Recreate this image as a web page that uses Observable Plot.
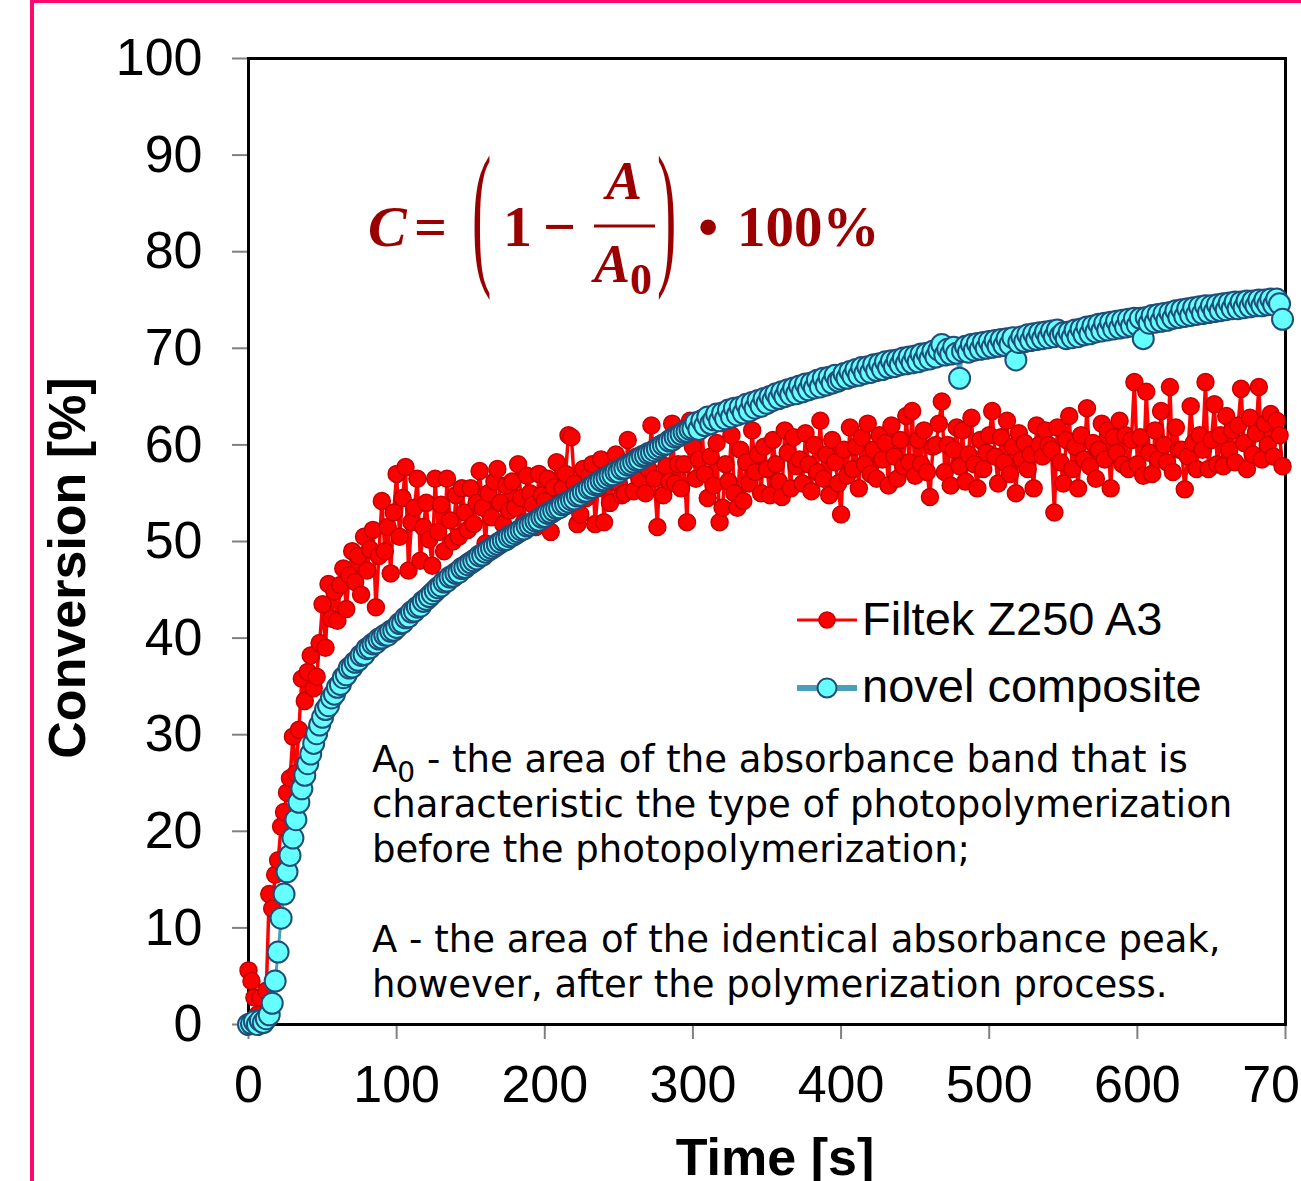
<!DOCTYPE html>
<html><head><meta charset="utf-8">
<script src="https://cdn.jsdelivr.net/npm/d3@7"></script>
<script src="https://cdn.jsdelivr.net/npm/@observablehq/plot@0.6"></script>
<style>html,body{margin:0;padding:0;background:#fff;overflow:hidden}</style>
</head><body><div id="chart"></div>
<script>
// sampling times [s]
const times = [
0,2,4,6,8,10,12,14,16,18,20,22,24,26,28,30,32,34,36,38,40,42,44,46,48,
50,52,54,56,58,60,62,64,66,68,70,72,74,76,78,80,82,84,86,88,90,92,94,96,98,
100,102,104,106,108,110,112,114,116,118,120,122,124,126,128,130,132,134,136,138,140,142,144,146,148,
150,152,154,156,158,160,162,164,166,168,170,172,174,176,178,180,182,184,186,188,190,192,194,196,198,
200,202,204,206,208,210,212,214,216,218,220,222,224,226,228,230,232,234,236,238,240,242,244,246,248,
250,252,254,256,258,260,262,264,266,268,270,272,274,276,278,280,282,284,286,288,290,292,294,296,298,
300,302,304,306,308,310,312,314,316,318,320,322,324,326,328,330,332,334,336,338,340,342,344,346,348,
350,352,354,356,358,360,362,364,366,368,370,372,374,376,378,380,382,384,386,388,390,392,394,396,398,
400,402,404,406,408,410,412,414,416,418,420,422,424,426,428,430,432,434,436,438,440,442,444,446,448,
450,452,454,456,458,460,462,464,466,468,470,472,474,476,478,480,482,484,486,488,490,492,494,496,498,
500,502,504,506,508,510,512,514,516,518,520,522,524,526,528,530,532,534,536,538,540,542,544,546,548,
550,552,554,556,558,560,562,564,566,568,570,572,574,576,578,580,582,584,586,588,590,592,594,596,598,
600,602,604,606,608,610,612,614,616,618,620,622,624,626,628,630,632,634,636,638,640,642,644,646,648,
650,652,654,656,658,660,662,664,666,668,670,672,674,676,678,680,682,684,686,688,690,692,694,696,698];

// Filtek Z250 A3 conversion [%]
const filtek = [
5.6,4.5,2.8,1.0,2.8,0.5,3.5,13.5,12.0,15.5,17.0,20.5,22.0,24.0,25.5,29.8,26.0,30.5,35.8,33.5,36.5,38.2,34.8,36.0,39.5,
43.5,39.0,45.6,42.0,44.8,41.8,45.5,47.2,43.0,46.5,49.0,45.8,48.5,44.5,50.5,47.0,49.2,51.2,43.2,48.5,54.2,49.0,51.5,46.7,53.0,
57.0,50.5,54.5,57.7,47.0,52.0,53.5,56.5,48.0,51.5,54.0,50.2,47.5,56.5,51.0,53.8,49.0,56.5,52.2,50.0,54.8,50.5,55.5,53.0,51.2,
55.5,51.8,54.0,57.3,53.5,49.8,55.0,52.5,56.2,57.5,54.0,51.8,55.8,53.2,56.2,53.5,58.0,54.5,52.0,56.8,55.0,53.8,51.5,57.0,54.8,
54.2,56.5,51.0,55.6,58.2,54.0,55.5,57.0,61.0,60.8,56.0,51.8,52.8,57.5,54.5,56.8,58.0,51.8,55.5,58.5,52.0,57.0,54.0,56.2,59.0,
56.0,54.8,55.0,60.5,57.5,55.2,58.8,56.5,58.0,55.0,57.5,62.0,56.5,51.5,59.5,54.8,57.8,56.2,62.2,56.0,58.0,55.5,58.0,52.0,62.5,
59.8,56.5,58.5,62.0,57.0,54.5,58.8,55.8,60.2,52.0,53.5,58.0,56.2,61.0,55.0,53.5,59.5,54.2,58.2,56.0,61.5,57.2,59.0,55.0,59.8,
57.5,54.8,60.5,58.0,56.2,54.6,61.5,59.2,55.5,60.8,57.8,58.5,56.0,61.2,58.0,55.2,60.0,57.2,62.5,56.5,59.0,54.8,60.5,58.2,56.0,
52.8,59.5,56.8,61.8,57.5,59.8,55.5,60.8,58.0,62.2,57.0,59.5,56.5,61.0,58.5,60.2,55.8,62.0,58.8,56.5,60.5,57.8,63.0,58.2,63.5,
56.8,60.5,58.0,61.5,57.2,54.6,59.8,60.0,62.2,64.5,57.2,60.0,55.8,59.5,61.8,57.8,61.5,56.2,59.0,62.8,58.0,55.5,60.5,57.5,59.2,
61.0,63.5,58.8,56.0,60.8,58.2,62.5,57.0,59.8,55.0,61.2,58.5,60.2,57.5,59.0,55.5,62.0,60.0,58.8,61.5,60.0,59.5,53.0,61.8,58.2,
56.0,60.5,63.0,57.5,59.8,55.5,61.0,58.5,63.8,57.8,60.2,56.5,59.5,62.2,58.5,61.5,55.5,60.8,59.2,62.5,58.0,61.0,57.5,60.5,66.5,
58.0,60.8,56.8,65.5,59.2,57.0,61.5,58.5,63.5,60.0,58.2,66.0,57.2,61.8,59.5,59.5,55.4,58.8,64.0,60.2,57.5,61.0,59.5,66.5,57.5,
60.5,64.2,58.0,61.0,57.8,63.0,59.5,61.5,58.2,62.0,65.8,60.2,57.5,62.8,59.0,61.2,66.0,58.5,62.2,60.0,63.2,58.8,62.5,61.0,57.8];

// novel composite conversion [%]
const novel = [
0.0,0.1,0.3,0.0,0.4,0.2,0.6,1.0,2.2,4.5,7.5,11.0,13.5,15.8,17.5,19.3,21.2,23.0,24.4,25.8,27.0,28.0,29.1,30.1,31.0,
31.8,32.6,33.0,33.8,34.2,34.9,35.2,35.9,36.2,36.9,37.0,37.5,37.7,38.2,38.3,38.9,39.0,39.4,39.5,39.9,40.0,40.3,40.3,40.7,40.8,
41.1,41.5,41.6,42.1,42.2,42.7,42.8,43.2,43.3,43.8,44.0,44.3,44.6,44.9,45.2,45.4,45.8,45.9,46.3,46.4,46.7,46.8,47.2,47.3,47.6,
47.8,48.0,48.2,48.5,48.6,48.9,49.1,49.3,49.5,49.7,49.9,50.1,50.2,50.5,50.6,50.8,51.0,51.2,51.3,51.6,51.7,51.9,52.1,52.2,52.5,
52.6,52.9,53.0,53.2,53.4,53.5,53.8,53.9,54.1,54.3,54.4,54.7,54.8,55.1,55.2,55.5,55.6,55.9,56.0,56.3,56.4,56.6,56.8,56.9,57.2,
57.2,57.5,57.6,57.9,58.0,58.2,58.4,58.5,58.8,58.9,59.1,59.2,59.4,59.6,59.8,60.0,60.1,60.4,60.5,60.8,60.9,61.1,61.3,61.4,61.6,
61.7,62.3,61.6,62.5,62.0,62.9,62.2,62.6,63.2,62.5,63.3,62.7,63.6,62.9,63.8,63.1,63.9,63.3,64.2,63.5,64.4,63.8,64.6,64.0,64.8,
64.3,65.0,64.6,65.3,64.8,65.5,65.0,65.7,65.2,65.9,65.3,66.1,65.5,66.3,65.7,66.4,65.9,66.7,66.0,66.9,66.2,67.0,66.4,67.2,66.6,
66.8,67.4,66.9,67.6,67.1,67.8,67.2,68.0,67.4,68.1,67.5,68.3,67.7,68.4,67.8,68.6,68.0,68.7,68.1,68.8,68.3,69.0,68.4,69.1,68.5,
69.2,68.6,69.4,68.8,69.5,68.9,69.7,69.1,69.8,70.4,69.3,69.9,69.4,70.1,69.5,66.9,69.7,70.2,69.6,70.4,69.8,70.5,69.9,70.6,70.0,
70.7,70.1,70.8,70.2,70.9,70.3,71.0,70.4,71.1,68.8,70.6,71.2,70.7,71.4,70.8,71.5,70.9,71.6,71.0,71.7,71.1,71.8,71.2,71.9,71.3,
71.6,71.0,71.7,71.1,71.9,71.2,72.0,71.4,72.2,71.5,72.3,71.7,72.5,71.8,72.6,71.9,72.7,72.0,72.8,72.1,72.9,72.2,73.0,72.3,73.1,
72.4,73.1,71.0,73.2,72.6,73.4,72.7,73.5,72.8,73.6,72.9,73.7,73.1,73.9,73.2,74.0,73.3,74.1,73.4,74.2,73.5,74.3,73.6,74.4,73.7,
74.4,73.8,74.5,73.9,74.6,74.0,74.7,74.1,74.8,74.1,74.8,74.2,74.9,74.3,74.9,74.4,75.0,74.4,75.0,74.5,75.1,74.5,75.1,74.6,73.0];

const seriesNames = ["Filtek Z250 A3", "novel composite"];
const xTicks = [0,100,200,300,400,500,600,700];
const yTicks = [0,10,20,30,40,50,60,70,80,90,100];
const xTitle = "Time [s]";
const yTitle = "Conversion [%]";
const noteLines = [
  ["A", "0", " - the area of the absorbance band that is"],
  ["characteristic the type of photopolymerization"],
  ["before the photopolymerization;"],
  [""],
  ["A - the area of the identical absorbance peak,"],
  ["however, after the polymerization process."]
];

const redData = times.map((t, i) => ({t, v: filtek[i]})).filter(d => d.v != null);
const cyanData = times.map((t, i) => ({t, v: novel[i]})).filter(d => d.v != null);

const sans = "'Liberation Sans', Arial, sans-serif";
const plot = Plot.plot({
  width: 1301, height: 1181,
  marginLeft: 248, marginRight: 16, marginTop: 58, marginBottom: 157,
  style: {fontFamily: sans, fontSize: "52px", background: "white", color: "black"},
  x: {domain: [0, 700]},
  y: {domain: [0, 100]},
  marks: [
    Plot.axisX({ticks: xTicks, tickSize: 15, tickPadding: 26, stroke: "#808080", strokeWidth: 2, fontSize: 52, label: null, tickFormat: d => String(d)}),
    Plot.axisY({ticks: yTicks, tickSize: 16, tickPadding: 30, stroke: "#808080", strokeWidth: 2, fontSize: 52, label: null, tickFormat: d => String(d)}),
    Plot.frame({stroke: "black", strokeWidth: 3}),
    Plot.line(redData, {x: "t", y: "v", stroke: "#ff0000", strokeWidth: 3.5}),
    Plot.dot(redData, {x: "t", y: "v", r: 8.5, fill: "#ff0000", stroke: "#c40000", strokeWidth: 1.5}),
    Plot.line(cyanData, {x: "t", y: "v", stroke: "#4aa0b8", strokeWidth: 3}),
    Plot.dot(cyanData, {x: "t", y: "v", r: 10.5, fill: "#66ffff", stroke: "#1f4e79", strokeWidth: 2})
  ]
});
document.getElementById("chart").appendChild(plot);

const svg = d3.select(plot);
// pink page border
svg.append("line").attr("x1", 32).attr("x2", 32).attr("y1", 0).attr("y2", 1181).attr("stroke", "#ff0a6c").attr("stroke-width", 4);
svg.append("line").attr("x1", 30).attr("x2", 1301).attr("y1", 1.5).attr("y2", 1.5).attr("stroke", "#ff0a6c").attr("stroke-width", 3);

// axis titles
svg.append("text").attr("transform", "translate(85,568) rotate(-90)").attr("text-anchor", "middle")
  .attr("font-family", sans).attr("font-size", 52).attr("font-weight", "bold").attr("fill", "black").text(yTitle);
svg.append("text").attr("x", 775).attr("y", 1175).attr("text-anchor", "middle")
  .attr("font-family", sans).attr("font-size", 52).attr("font-weight", "bold").attr("fill", "black").text(xTitle);

// legend
const lg = svg.append("g").attr("text-anchor", "start");
lg.append("line").attr("x1", 797).attr("x2", 857).attr("y1", 620).attr("y2", 620).attr("stroke", "#ff0000").attr("stroke-width", 3);
lg.append("circle").attr("cx", 827).attr("cy", 620).attr("r", 8).attr("fill", "#ff0000").attr("stroke", "#c40000").attr("stroke-width", 1.5);
lg.append("text").attr("x", 862).attr("y", 635).attr("font-family", sans).attr("font-size", 47).attr("fill", "black").text(seriesNames[0]);
lg.append("line").attr("x1", 797).attr("x2", 857).attr("y1", 688).attr("y2", 688).attr("stroke", "#4aa0b8").attr("stroke-width", 6);
lg.append("circle").attr("cx", 827).attr("cy", 688).attr("r", 9.5).attr("fill", "#66ffff").attr("stroke", "#1f4e79").attr("stroke-width", 2);
lg.append("text").attr("x", 862).attr("y", 702).attr("font-family", sans).attr("font-size", 47).attr("fill", "black").text(seriesNames[1]);

// notes
const ng = svg.append("g").attr("text-anchor", "start").attr("font-family", "'DejaVu Sans', Verdana, sans-serif").attr("font-size", 37).attr("fill", "black");
noteLines.forEach((parts, i) => {
  const t = ng.append("text").attr("x", 372).attr("y", 772 + i * 45);
  if (parts.length === 3) {
    t.append("tspan").text(parts[0]);
    t.append("tspan").attr("font-size", 28).attr("dy", 10).text(parts[1]);
    t.append("tspan").attr("dy", -10).text(parts[2]);
  } else {
    t.text(parts[0]);
  }
});

// formula
const fc = "#9a0000";
const fg = svg.append("g").attr("text-anchor", "start").attr("font-family", "'Liberation Serif', 'Times New Roman', serif").attr("font-weight", "bold").attr("fill", fc);
fg.append("text").attr("x", 368).attr("y", 246).attr("font-size", 58).attr("font-style", "italic").text("C");
fg.append("text").attr("x", 414).attr("y", 246).attr("font-size", 58).text("=");
fg.append("text").attr("transform", "translate(472,266) scale(1,2.73)").attr("font-size", 58).attr("font-weight", "normal").text("(");
fg.append("text").attr("x", 503).attr("y", 246).attr("font-size", 58).text("1");
fg.append("text").attr("x", 543).attr("y", 246).attr("font-size", 58).text("\u2212");
fg.append("text").attr("x", 606).attr("y", 199).attr("font-size", 54).attr("font-style", "italic").text("A");
fg.append("line").attr("x1", 594).attr("x2", 655).attr("y1", 226).attr("y2", 226).attr("stroke", fc).attr("stroke-width", 3);
fg.append("text").attr("x", 594).attr("y", 282).attr("font-size", 54).attr("font-style", "italic").text("A");
fg.append("text").attr("x", 630).attr("y", 294).attr("font-size", 44).text("0");
fg.append("text").attr("transform", "translate(657,266) scale(1,2.73)").attr("font-size", 58).attr("font-weight", "normal").text(")");
fg.append("text").attr("x", 698).attr("y", 246).attr("font-size", 58).text("\u2022");
fg.append("text").attr("x", 737).attr("y", 246).attr("font-size", 57).text("100%");
</script>
</body></html>
